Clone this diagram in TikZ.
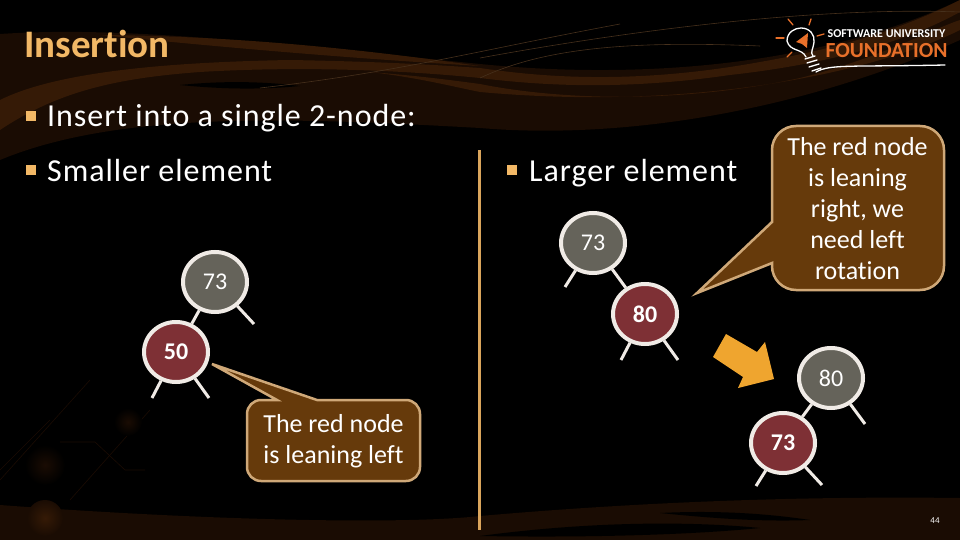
\documentclass[tikz,border=0pt]{standalone}
\usepackage{fontspec}
\setmainfont{Carlito}[Ligatures=NoCommon]
\usetikzlibrary{positioning,shapes.geometric}

\definecolor{titlecol}{HTML}{F2B866}
\definecolor{swooshcol}{HTML}{351A06}
\definecolor{swooshdark}{HTML}{1A0C03}
\definecolor{threadcol}{HTML}{46301C}
\definecolor{blackcol}{HTML}{7E3035}
\definecolor{graycol}{HTML}{65635A}
\definecolor{ringcol}{HTML}{F0EBE6}
\definecolor{bubblecol}{HTML}{663A0B}
\definecolor{bubbleline}{HTML}{CFA878}
\definecolor{arrowcol}{HTML}{EFA52F}
\definecolor{logocol}{HTML}{E8702A}

\tikzset{
  treenode/.style={ellipse,draw=ringcol,line width=4pt,text=white,inner sep=0pt,
                   minimum width=64pt,minimum height=60pt,font=\fontsize{24}{24}\selectfont},
  rednode/.style={treenode,fill=blackcol,font=\fontsize{24}{24}\selectfont\bfseries},
  graynode/.style={treenode,fill=graycol},
  leg/.style={draw=ringcol,line width=3pt},
  bulletbox/.style={fill=titlecol,minimum size=10pt,inner sep=0pt},
  bullettext/.style={text=white,anchor=base west,inner sep=0pt,
                     font=\fontsize{32}{32}\selectfont\addfontfeatures{LetterSpace=3}},
  bubble/.style={draw=bubbleline,fill=bubblecol,line width=2.5pt,line join=miter},
  bubbletext/.style={text=white,align=center,inner sep=0pt,font=\fontsize{26}{31}\selectfont},
  thread/.style={draw=threadcol,line width=0.6pt},
  logoline/.style={draw=white,line width=1.3pt,line cap=round},
  logoray/.style={draw=logocol,line width=1.3pt,line cap=round}
}

\begin{document}
\begin{tikzpicture}[x=1pt,y=-1pt]
        \useasboundingbox (0,0) rectangle (960,540);
        \fill[black] (0,0) rectangle (960,540);

        % corner glow
        \draw[swooshdark,line width=0.6pt] (0,480) -- (90,380);
        \draw[swooshdark,line width=0.6pt] (70,500) -- (150,410);
        \draw[swooshdark,line width=0.6pt] (0,470) -- (50,420);
        \draw[swooshdark,line width=0.6pt] (60,442) -- (95,442) -- (125,470) -- (145,470);
        \shade[inner color=swooshdark,outer color=black] (128,422) circle (14pt);
        \shade[inner color=swooshdark,outer color=black] (45,465) circle (20pt);

        % top swooshes
        \fill[swooshdark] (0,34) .. controls (120,26) and (260,42) .. (480,64)
              .. controls (640,80) and (820,66) .. (960,0) -- (960,40)
              .. controls (800,112) and (620,140) .. (480,128)
              .. controls (300,118) and (120,110) .. (0,160) -- cycle;
        \fill[black] (180,85) .. controls (220,81) and (260,81) .. (300,86)
              .. controls (260,90) and (220,89) .. (180,85) -- cycle;
        \fill[swooshcol] (0,100) .. controls (60,70) and (180,62) .. (290,60)
              .. controls (400,62) and (450,66) .. (480,68)
              .. controls (560,80) and (650,82) .. (760,62)
              .. controls (840,48) and (900,30) .. (960,0) -- (960,12)
              .. controls (900,45) and (820,65) .. (730,75)
              .. controls (640,88) and (560,88) .. (480,78)
              .. controls (400,70) and (300,66) .. (200,72)
              .. controls (120,78) and (60,90) .. (0,130) -- cycle;
        \fill[swooshcol] (100,35) .. controls (250,36) and (380,52) .. (480,66)
              .. controls (380,60) and (270,52) .. (100,35) -- cycle;
        \fill[swooshcol] (370,72) .. controls (420,76) and (450,80) .. (480,84)
              .. controls (560,100) and (680,104) .. (800,78)
              .. controls (880,58) and (930,30) .. (960,20) -- (960,30)
              .. controls (880,70) and (700,112) .. (480,92)
              .. controls (450,86) and (420,78) .. (370,72) -- cycle;
        \draw[thread] (260,88) .. controls (400,72) and (480,50) .. (620,24);
        \draw[thread] (480,58) .. controls (600,36) and (800,6) .. (960,12);
        \draw[thread] (480,78) .. controls (540,50) and (620,40) .. (760,46);

        % bottom swooshes
        \fill[swooshdark] (0,505) .. controls (200,520) and (400,525) .. (480,516)
              .. controls (640,502) and (800,496) .. (960,498) -- (960,540) -- (0,540) -- cycle;
        \fill[black] (660,513) .. controls (720,510) and (770,514) .. (810,520)
              .. controls (760,522) and (710,518) .. (660,513) -- cycle;
        \fill[black] (480,536) .. controls (600,520) and (700,522) .. (760,528)
              .. controls (700,534) and (600,538) .. (480,536) -- cycle;
        \shade[inner color=swooshcol,outer color=swooshdark] (45,518) circle (18pt);

        % title and text
        \node[text=titlecol,anchor=base west,inner sep=0pt,font=\fontsize{39}{39}\selectfont\bfseries] (title) at (24,58) {Insertion};
        \node[bulletbox] (b1) at (31,116) {};
        \node[bullettext] (t1) at (47,127) {Insert into a single 2-node:};
        \node[bulletbox] (b2) at (31,170) {};
        \node[bullettext] (t2) at (47,182) {Smaller element};
        \node[bulletbox] (b3) at (512,170) {};
        \node[bullettext] (t3) at (529,182) {Larger element};

        % logo
        \node[text=white,inner sep=0pt,font=\fontsize{12}{12}\selectfont\bfseries] (logotop) at (886.5,34) {SOFTWARE UNIVERSITY};
        \node[text=logocol,inner sep=0pt,font=\fontsize{21.5}{21.5}\selectfont\bfseries] (logobot) at (886.5,51) {FOUNDATION};
        \draw[logoline] (806,57) .. controls (802,48) and (790,52) .. (787,41)
              .. controls (787,32) and (795,28) .. (801,28)
              .. controls (810,28) and (815,35) .. (814,42)
              .. controls (813,50) and (810,52) .. (813,56);
        \draw[logoline] (805,59) -- (815,56) (807,63) -- (817,60) (809,67) -- (819,64) (812,71) -- (821,68);
        \draw[logoline] (816,72) .. controls (830,64) and (850,67) .. (945,65);
        \fill[logocol] (796,42) -- (808,33) -- (807,48) -- (802,44) -- cycle;
        \draw[logoray] (788,19) -- (793,25);
        \draw[logoray] (811,19) -- (809,25);
        \draw[logoray] (776,38) -- (784,38);
        \draw[logoray] (787,57) -- (792,52);
        \draw[logoray] (817,36) -- (824,34);

        % divider
        \draw[titlecol!90!black,line width=3pt] (479.5,150) -- (479.5,530);

        % left tree
        \node[graynode] (a73) at (215,282) {73};
        \node[rednode] (a50) at (176,352) {50};
        \coordinate (a73r) at (254,324);
        \coordinate (a50l) at (152,398);
        \coordinate (a50r) at (209,398);
        \path[leg] (a73) edge (a50)
                   (a73) edge (a73r)
                   (a50) edge (a50l)
                   (a50) edge (a50r);

        % right tree
        \node[graynode] (b73) at (593,243) {73};
        \node[rednode] (b80) at (645,314) {80};
        \coordinate (b73l) at (565,287);
        \coordinate (b80l) at (621,360);
        \coordinate (b80r) at (678,360);
        \path[leg] (b73) edge (b80)
                   (b73) edge (b73l)
                   (b80) edge (b80l)
                   (b80) edge (b80r);

        % rotated tree
        \node[graynode] (c80) at (831,378) {80};
        \node[rednode] (c73) at (783,443) {73};
        \coordinate (c80r) at (865,424);
        \coordinate (c73l) at (756,486);
        \coordinate (c73r) at (822,485);
        \path[leg] (c80) edge (c73)
                   (c80) edge (c80r)
                   (c73) edge (c73l)
                   (c73) edge (c73r);

        % rotation arrow
        \fill[arrowcol] (726,334) -- (757,352) -- (765,342) -- (774,379) -- (738,388) -- (743,377) -- (713,357) -- cycle;

        % callouts
        \draw[bubble] (277,400) -- (212,364) -- (317,400) [rounded corners=14pt] -- (420,400) -- (420,481) -- (247,481) -- (247,400) [sharp corners] -- cycle;
        \node[bubbletext] (note1) at (333.5,441.5) {The red node\\is leaning left};
        \draw[bubble] (772,222) -- (697,293) -- (772,263) [rounded corners=24pt] -- (772,290) -- (944,290) -- (944,126) -- (772,126) [sharp corners] -- (772,222) -- cycle;
        \node[bubbletext] (note2) at (857.5,209) {The red node\\is leaning\\right, we\\need left\\rotation};

        \node[text=white,inner sep=0pt,font=\fontsize{9}{9}\selectfont] (pagenum) at (935,521) {44};
\end{tikzpicture}
\end{document}
